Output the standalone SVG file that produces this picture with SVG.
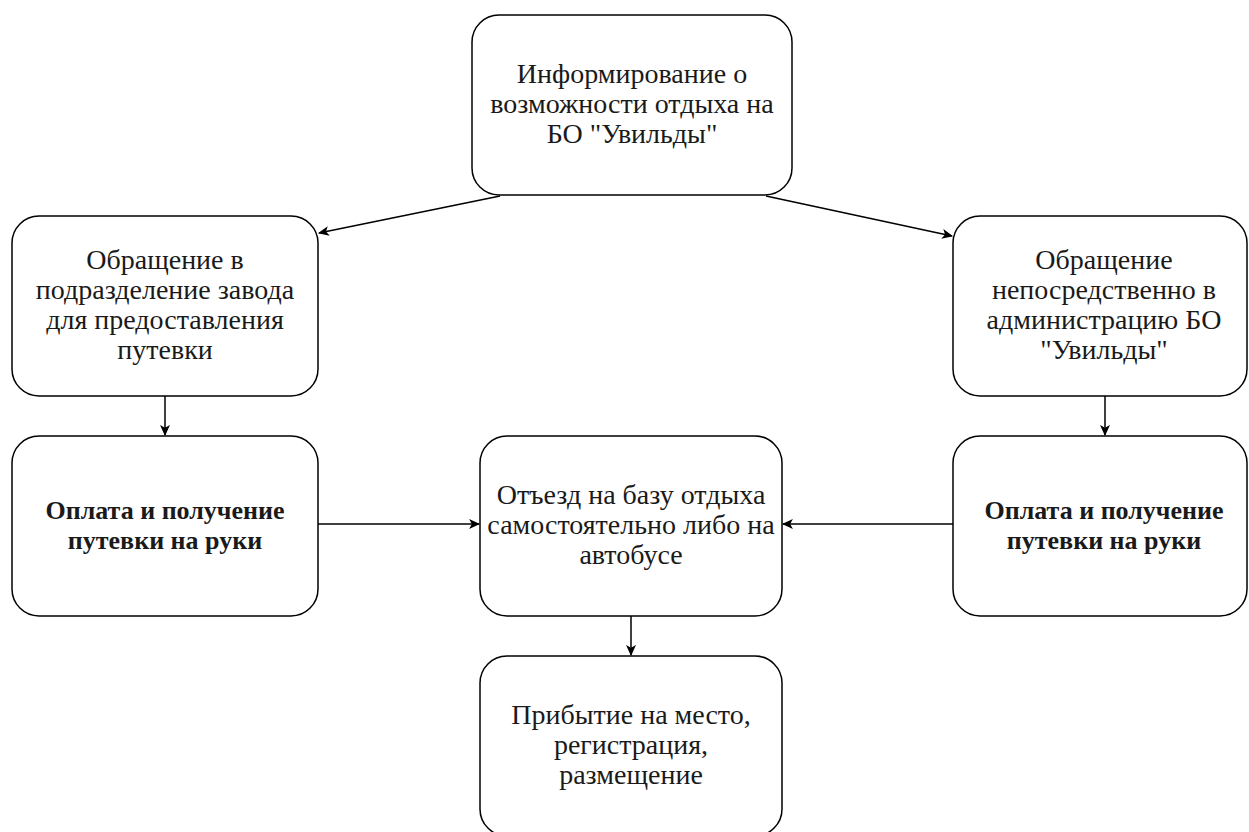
<svg xmlns="http://www.w3.org/2000/svg" width="1249" height="832" viewBox="0 0 1249 832" font-family="'Liberation Serif', 'DejaVu Serif', serif">
<defs>
<style>
.box{fill:#ffffff;stroke:#000000;stroke-width:1.5}
.t{font-size:28px;fill:#1a1a1a;text-anchor:middle}
.b{font-weight:bold;font-size:26px}
.c{stroke:#000000;stroke-width:1.5;fill:none;marker-end:url(#ah)}
</style>
<marker id="ah" viewBox="0 0 10 10" refX="9" refY="5" markerWidth="11" markerHeight="11" markerUnits="userSpaceOnUse" orient="auto">
<path d="M0,0.5 L10,5 L0,9.5 L2.5,5 Z" fill="#000000"/>
</marker>
</defs>
<rect width="1249" height="832" fill="#ffffff"/>
<g id="connectors">
<path class="c" d="M500,196 L319,233"/>
<path class="c" d="M766,196 L952,236"/>
<path class="c" d="M165,396 L165,435"/>
<path class="c" d="M1105,396 L1105,435"/>
<path class="c" d="M318,524 L479,524"/>
<path class="c" d="M953,524 L783,524"/>
<path class="c" d="M631,616 L631,655"/>
</g>
<g id="n-top">
<rect class="box" x="472" y="15" width="320" height="180" rx="27"/>
<text class="t" x="632" y="83">Информирование о</text>
<text class="t" x="632" y="113">возможности отдыха на</text>
<text class="t" x="632" y="143">БО "Увильды"</text>
</g>
<g id="n-left1">
<rect class="box" x="12" y="216" width="306" height="180" rx="27"/>
<text class="t" x="165" y="269">Обращение в</text>
<text class="t" x="165" y="299">подразделение завода</text>
<text class="t" x="165" y="329">для предоставления</text>
<text class="t" x="165" y="359">путевки</text>
</g>
<g id="n-right1">
<rect class="box" x="953" y="216" width="294" height="180" rx="27"/>
<text class="t" x="1104" y="269">Обращение</text>
<text class="t" x="1104" y="299">непосредственно в</text>
<text class="t" x="1104" y="329">администрацию БО</text>
<text class="t" x="1104" y="359">"Увильды"</text>
</g>
<g id="n-left2">
<rect class="box" x="12" y="436" width="306" height="180" rx="27"/>
<text class="t b" x="165" y="519">Оплата и получение</text>
<text class="t b" x="165" y="549">путевки на руки</text>
</g>
<g id="n-center">
<rect class="box" x="480" y="436" width="302" height="180" rx="27"/>
<text class="t" x="631" y="504">Отъезд на базу отдыха</text>
<text class="t" x="631" y="534">самостоятельно либо на</text>
<text class="t" x="631" y="564">автобусе</text>
</g>
<g id="n-right2">
<rect class="box" x="953" y="436" width="294" height="180" rx="27"/>
<text class="t b" x="1104" y="519">Оплата и получение</text>
<text class="t b" x="1104" y="549">путевки на руки</text>
</g>
<g id="n-bottom">
<rect class="box" x="480" y="656" width="302" height="180" rx="27"/>
<text class="t" x="631" y="724">Прибытие на место,</text>
<text class="t" x="631" y="754">регистрация,</text>
<text class="t" x="631" y="784">размещение</text>
</g>
</svg>
